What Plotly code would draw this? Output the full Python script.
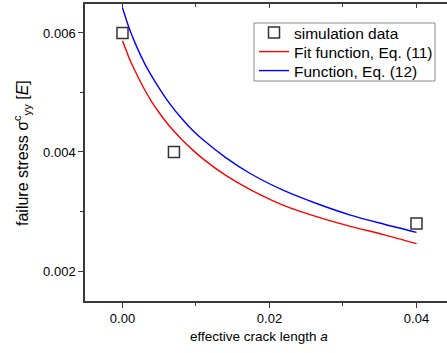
import plotly.graph_objects as go

# simulation data
sim_a = [0.0, 0.007, 0.04]
sim_sigma = [0.0060, 0.0040, 0.0028]

# Fit function, Eq. (11)
fit_a = [0.0, 0.0005, 0.001, 0.002, 0.003, 0.004, 0.005, 0.0065, 0.008, 0.0095, 0.011, 0.014,
         0.0175, 0.022, 0.0265, 0.031, 0.0355, 0.040]
fit_sigma = [0.00587, 0.00571, 0.00555, 0.00529, 0.00505, 0.00484, 0.00466, 0.00442, 0.00422,
             0.00404, 0.00388, 0.00361, 0.00336, 0.00310, 0.00291, 0.002751, 0.002612, 0.00246]

# Function, Eq. (12)
fn_a = [0.0, 0.0005, 0.001, 0.002, 0.003, 0.004, 0.005, 0.0065, 0.008, 0.0095, 0.011, 0.014,
        0.0175, 0.022, 0.0265, 0.031, 0.0355, 0.040]
fn_sigma = [0.00642, 0.00623, 0.00605, 0.00575, 0.00549, 0.00527, 0.00507, 0.00480, 0.00457,
            0.00437, 0.00420, 0.00391, 0.00363, 0.00335, 0.00313, 0.00294, 0.00279, 0.00265]

x_ticks = [0.0, 0.02, 0.04]
x_tick_text = ["0.00", "0.02", "0.04"]
y_ticks = [0.002, 0.004, 0.006]
y_tick_text = ["0.002", "0.004", "0.006"]

FONT = "Liberation Sans, Arial, sans-serif"
AXC = "#3a3a3a"
XR = [-0.0051, 0.04415]
YR = [0.001496, 0.006487]

L, T, W, H = 85, 4, 362, 297


def px(x):
    return (x - L) / W


def py(y):
    return (T + H - y) / H


fig = go.Figure()
fig.add_trace(go.Scatter(x=sim_a, y=sim_sigma, mode="markers", name="simulation data",
                         legend="legend",
                         marker=dict(symbol="square-open", size=11, color="#333333",
                                     line=dict(width=1.5, color="#333333"))))
fig.add_trace(go.Scatter(x=fit_a, y=fit_sigma, mode="lines", name="Fit function, Eq. (11)",
                         legend="legend2",
                         line=dict(color="#ff0000", width=1.4, shape="spline", smoothing=0.8)))
fig.add_trace(go.Scatter(x=fn_a, y=fn_sigma, mode="lines", name="Function, Eq. (12)",
                         legend="legend3",
                         line=dict(color="#0000ff", width=1.4, shape="spline", smoothing=0.8)))
# invisible trace to make top axis appear
fig.add_trace(go.Scatter(x=[None], y=[None], xaxis="x2", showlegend=False, hoverinfo="skip"))

leg_common = dict(xanchor="left", yanchor="middle", borderwidth=0, bgcolor="rgba(0,0,0,0)",
                  font=dict(family=FONT, size=15.5, color="black"), itemwidth=30)

fig.update_layout(
    width=447, height=353,
    margin=dict(l=L, r=0, t=T, b=353 - T - H),
    paper_bgcolor="white", plot_bgcolor="white",
    font=dict(family=FONT, size=13, color="black"),
    showlegend=True,
    legend=dict(x=px(254), y=py(33), **leg_common),
    legend2=dict(x=px(254), y=py(52), **leg_common),
    legend3=dict(x=px(254), y=py(71), **leg_common),
    shapes=[dict(type="rect", xref="paper", yref="paper",
                 x0=px(254), x1=px(435), y0=py(81), y1=py(23),
                 line=dict(color="#8a8a8a", width=1), fillcolor="rgba(0,0,0,0)", layer="above")],
    xaxis=dict(range=XR, showgrid=False, zeroline=False,
               showline=True, linecolor=AXC, linewidth=1.5,
               ticks="outside", ticklen=5, tickwidth=1.2, tickcolor=AXC,
               tickvals=x_ticks, ticktext=x_tick_text,
               tickfont=dict(family=FONT, size=13, color="black"),
               minor=dict(dtick=0.01, tick0=0, ticks="outside", ticklen=3, tickwidth=1.2, tickcolor=AXC)),
    xaxis2=dict(range=XR, overlaying="x", side="top", anchor="y", matches="x",
                showgrid=False, zeroline=False, showline=True, linecolor=AXC, linewidth=1.5,
                ticks="inside", ticklen=4, tickwidth=1.2, tickcolor=AXC,
                tickvals=x_ticks, showticklabels=False,
                minor=dict(dtick=0.01, tick0=0, ticks="inside", ticklen=3, tickwidth=1.2, tickcolor=AXC)),
    yaxis=dict(range=YR, showgrid=False, zeroline=False,
               showline=True, linecolor=AXC, linewidth=1.5,
               ticks="outside", ticklen=5, tickwidth=1.2, tickcolor=AXC,
               tickvals=y_ticks, ticktext=y_tick_text,
               tickfont=dict(family=FONT, size=13, color="black"),
               minor=dict(dtick=0.001, tick0=0, ticks="outside", ticklen=3, tickwidth=1.2, tickcolor=AXC)),
    annotations=[
        dict(text="effective crack length <i>a</i>", xref="paper", yref="paper",
             x=px(258.6), y=py(336), xanchor="center", yanchor="middle",
             showarrow=False, font=dict(family=FONT, size=13.5, color="black")),
        dict(text="failure stress σ<sup>c</sup><sub>yy</sub> [<i>E</i>]", xref="paper", yref="paper",
             x=px(21.5), y=py(153.5), xanchor="center", yanchor="middle", textangle=-90,
             showarrow=False, font=dict(family=FONT, size=16, color="black")),
    ],
)

fig.write_html("out.html", config={"displayModeBar": False},
               post_script="document.body.style.margin='0';document.body.style.overflow='hidden';")
